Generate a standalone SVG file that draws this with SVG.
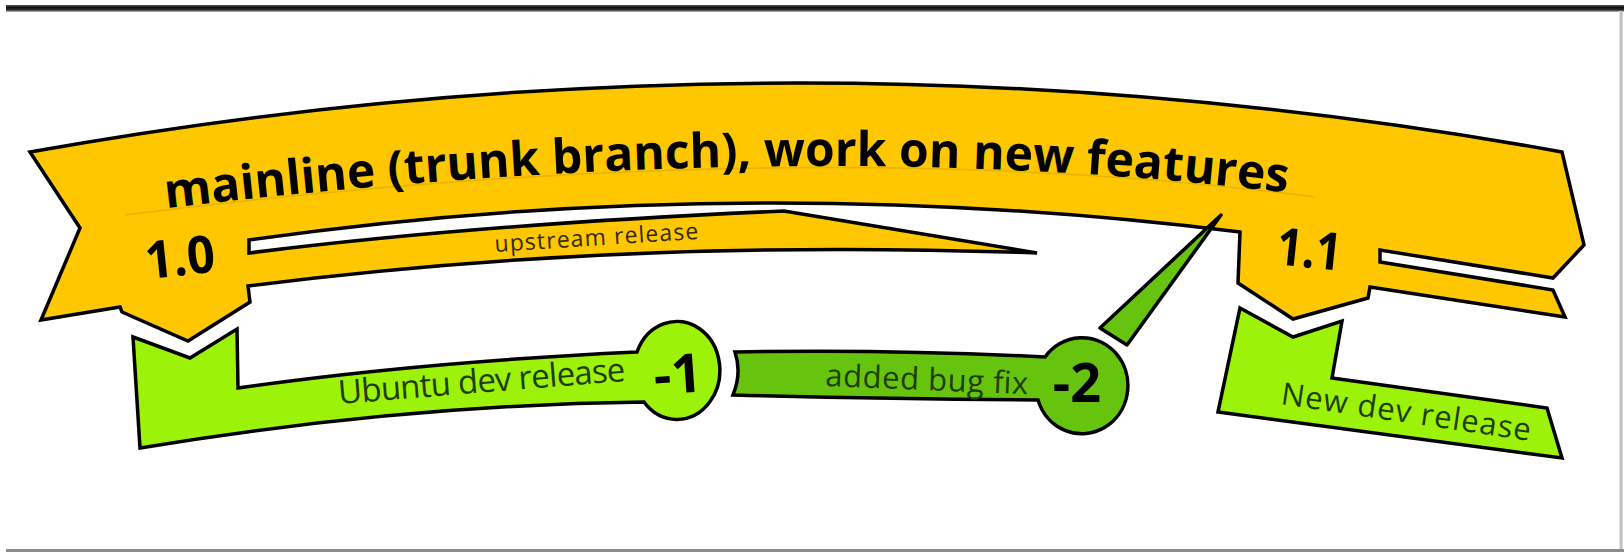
<svg xmlns="http://www.w3.org/2000/svg" xmlns:xlink="http://www.w3.org/1999/xlink" width="1624" height="552" viewBox="0 0 1624 552">
<style>
.ribbon{stroke:#000;stroke-width:3.5;stroke-linejoin:miter;stroke-miterlimit:6}
.yellow{fill:#fec700}
.lgreen{fill:#9df20a}
.mgreen{fill:#66c40e}
.big{font-family:"Open Sans","DejaVu Sans",sans-serif;font-weight:700;fill:#000}
.lbl{font-family:"Open Sans","DejaVu Sans",sans-serif;font-weight:400;fill:#1f3d00}
.guide{fill:none;stroke:#e8b400;stroke-width:1.5}
</style>
<defs>
<linearGradient id="topbar" x1="0" y1="0" x2="0" y2="1">
<stop offset="0" stop-color="#555"/>
<stop offset="0.35" stop-color="#111"/>
<stop offset="0.7" stop-color="#2a2a2a"/>
<stop offset="1" stop-color="#c8c8c8"/>
</linearGradient>
<linearGradient id="rightbar" x1="0" y1="0" x2="1" y2="0">
<stop offset="0" stop-color="#eee"/>
<stop offset="0.5" stop-color="#b5b5b5"/>
<stop offset="1" stop-color="#ddd"/>
</linearGradient>
<path id="arc" d="M 160 209 Q 800 132 1290 193"/>
</defs>
<rect width="1624" height="552" fill="#fff"/>
<g id="frame">
<rect x="6" y="5" width="1618" height="7" fill="url(#topbar)"/>
<rect x="1619" y="11" width="4" height="538" fill="url(#rightbar)"/>
<rect x="6" y="549" width="1618" height="3" fill="#8c8c8c"/>
</g>
<g id="mainline">
<path class="ribbon yellow" d="M 30 152 Q 800 14 1562 152 L 1584 245 L 1553 278 L 1380 250 L 1380 262 L 1553 290 L 1565 317 L 1370 287 L 1368 298 L 1293 319 L 1238 283 L 1240 232 Q 740 170 249 240 L 249 253 Q 480 224 784 211 L 1037 253 Q 620 238 248 286 L 250 302 L 188 341 L 122 312 L 120 307 L 41 320 L 80 228 Z"/>
<path class="guide" d="M 125 215 Q 800 130 1315 197"/>
<text class="big" font-size="48"><textPath xlink:href="#arc" href="#arc" startOffset="6">mainline (trunk branch), work on new features</textPath></text>
<text class="big" font-size="52" x="147" y="279" textLength="70" lengthAdjust="spacingAndGlyphs" transform="rotate(-6 147 279)">1.0</text>
<text class="big" font-size="52" x="1275" y="264" textLength="65" lengthAdjust="spacingAndGlyphs" transform="rotate(6 1275 264)">1.1</text>
<text x="495" y="252" font-family="Open Sans, DejaVu Sans, sans-serif" font-size="23" fill="#332a00" textLength="204" transform="rotate(-3.7 495 252)">upstream release</text>
</g>
<g id="connectors">
<path class="mgreen" d="M 1100 328 L 1221 215 L 1127 345 Z" stroke="#000" stroke-width="3.5" stroke-linejoin="round"/>
</g>
<g id="ubuntu-dev-release">
<path class="ribbon lgreen" d="M 133 337 L 190 358 L 237 329 L 238 388 Q 420 362 637 352 A 43 49 0 1 1 644 402 Q 400 405 140 448 Z"/>
<text class="lbl" font-size="33" x="339" y="404" textLength="288" transform="rotate(-4.6 339 404)">Ubuntu dev release</text>
<text class="big" font-size="54" x="679" y="393" text-anchor="middle" transform="rotate(-4 679 393)">-1</text>
</g>
<g id="added-bug-fix">
<path class="ribbon mgreen" d="M 735 352 Q 890 349 1045 357 A 46 48 0 1 1 1038 400 Q 890 399 733 395 Q 742 373 735 352 Z"/>
<text class="lbl" font-size="31" x="825" y="386" textLength="203" transform="rotate(2.3 825 386)">added bug fix</text>
<text class="big" font-size="54" x="1077" y="402" text-anchor="middle">-2</text>
</g>
<g id="new-dev-release">
<path class="ribbon lgreen" d="M 1240 308 L 1293 337 L 1342 321 L 1332 378 L 1547 408 L 1562 458 L 1218 412 Z"/>
<text class="lbl" font-size="31" x="1280" y="404" textLength="252" transform="rotate(8.4 1280 404)">New dev release</text>
</g>
</svg>
